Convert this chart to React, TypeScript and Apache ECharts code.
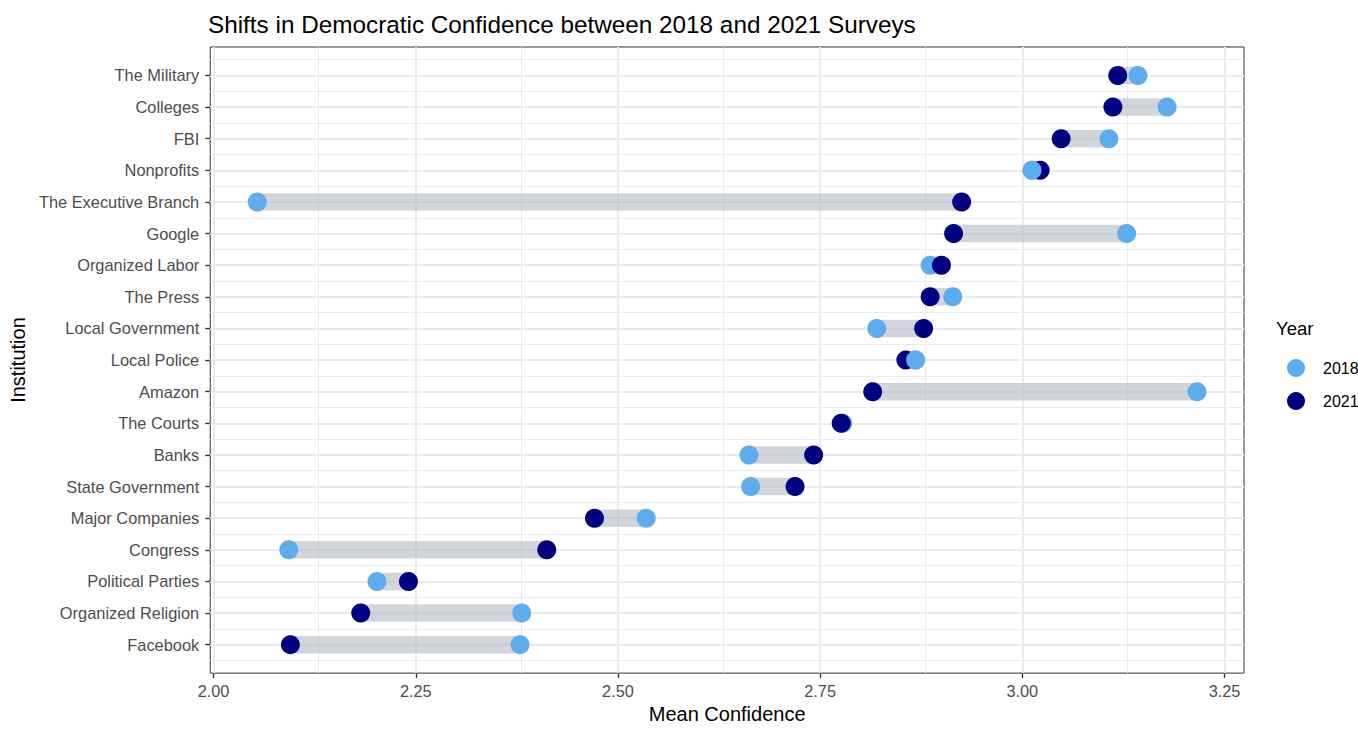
import React, { useEffect, useRef } from 'react';
import * as echarts from 'echarts';

// Institutions listed from top to bottom of the chart
const institutions = [
  'The Military',
  'Colleges',
  'FBI',
  'Nonprofits',
  'The Executive Branch',
  'Google',
  'Organized Labor',
  'The Press',
  'Local Government',
  'Local Police',
  'Amazon',
  'The Courts',
  'Banks',
  'State Government',
  'Major Companies',
  'Congress',
  'Political Parties',
  'Organized Religion',
  'Facebook',
];

const mean2018 = [
  3.143, 3.179, 3.107, 3.012, 2.054, 3.129, 2.886, 2.914, 2.82, 2.868,
  3.216, 2.778, 2.662, 2.664, 2.535, 2.093, 2.202, 2.381, 2.379,
];

const mean2021 = [
  3.118, 3.112, 3.048, 3.022, 2.925, 2.915, 2.9, 2.886, 2.878, 2.856,
  2.815, 2.776, 2.742, 2.719, 2.471, 2.412, 2.241, 2.182, 2.095,
];

const years = ['2018', '2021'];
const xTicks = [2.0, 2.25, 2.5, 2.75, 3.0, 3.25];
const xMinorTicks = [2.125, 2.375, 2.625, 2.875, 3.125];
// rows where the 2018 point is drawn above the 2021 point
const lightOnTop = ['Nonprofits', 'Local Police'];

const FONT = "'Liberation Sans', Arial, Helvetica, sans-serif";
const COLOR_2018 = '#5DADEC';
const COLOR_2021 = '#000080';

export default function App() {
  const ref = useRef<HTMLDivElement>(null);

  useEffect(() => {
    document.body.style.margin = '0';
    const chart = echarts.init(ref.current!, null, { renderer: 'svg' });
    const N = institutions.length;
    const yPos = institutions.map((_, i) => N - i);
    const all = [...mean2018, ...mean2021];
    const lo = Math.min(...all);
    const hi = Math.max(...all);
    const xPad = (hi - lo) * 0.05;
    const yPad = (N - 1) * 0.05;
    const yMajor = yPos.slice().reverse();
    const yMinor = Array.from({ length: N + 1 }, (_, k) => k + 0.5);

    const major = { color: '#ebebeb', width: 2, type: 'solid' as const };
    const minor = { color: '#ebebeb', width: 1, type: 'solid' as const };
    const gridLines = [
      ...xMinorTicks.map((v) => ({ xAxis: v, lineStyle: minor })),
      ...yMinor.map((v) => ({ yAxis: v, lineStyle: minor })),
      ...xTicks.map((v) => ({ xAxis: v, lineStyle: major })),
      ...yMajor.map((v) => ({ yAxis: v, lineStyle: major })),
    ];

    chart.setOption({
      animation: false,
      title: {
        text: 'Shifts in Democratic Confidence between 2018 and 2021 Surveys',
        left: 203,
        top: 7,
        textStyle: { fontFamily: FONT, fontSize: 24.3, fontWeight: 'normal', color: '#000' },
      },
      grid: {
        left: 209,
        width: 1035,
        top: 47,
        height: 634,
        show: true,
        borderColor: '#333333',
        borderWidth: 1,
        backgroundColor: '#ffffff',
        containLabel: false,
      },
      legend: {
        data: years.map((y) => ({ name: y, icon: 'circle' })),
        orient: 'vertical',
        left: 1282,
        top: 354,
        itemWidth: 18,
        itemHeight: 18,
        itemGap: 15,
        selectedMode: false,
        textStyle: { fontFamily: FONT, fontSize: 16, color: '#000', padding: [0, 0, 0, 13] },
      },
      graphic: [
        {
          type: 'text',
          x: 1276,
          y: 328,
          style: {
            text: 'Year',
            fontFamily: FONT,
            fontSize: 18.5,
            fill: '#000',
            verticalAlign: 'middle',
          },
        },
      ],
      xAxis: {
        type: 'value',
        min: lo - xPad,
        max: hi + xPad,
        name: 'Mean Confidence',
        nameLocation: 'middle',
        nameGap: 28,
        nameTextStyle: { fontFamily: FONT, fontSize: 20, color: '#000' },
        axisLine: { show: false, onZero: false },
        axisTick: { show: true, length: 5, lineStyle: { color: '#333333', width: 1.3 }, customValues: xTicks },
        axisLabel: {
          customValues: xTicks,
          formatter: (v: number) => v.toFixed(2),
          fontFamily: FONT,
          fontSize: 16.3,
          color: '#4d4d4d',
          margin: 10,
        },
        splitLine: { show: false },
      },
      yAxis: {
        type: 'value',
        min: 1 - yPad,
        max: N + yPad,
        name: 'Institution',
        nameLocation: 'middle',
        nameGap: 180,
        nameRotate: 90,
        nameTextStyle: { fontFamily: FONT, fontSize: 20, color: '#000' },
        axisLine: { show: false, onZero: false },
        axisTick: { show: true, length: 5, lineStyle: { color: '#333333', width: 1.3 }, customValues: yMajor },
        axisLabel: {
          customValues: yMajor,
          formatter: (v: number) => institutions[N - Math.round(v)] ?? '',
          fontFamily: FONT,
          fontSize: 16.4,
          color: '#4d4d4d',
          margin: 11,
        },
        splitLine: { show: false },
      },
      series: [
        {
          type: 'custom',
          name: 'segments',
          z: 3,
          data: institutions.map((_, i) => [mean2018[i], mean2021[i], yPos[i]]),
          encode: { x: [0, 1], y: 2 },
          renderItem: (_params: any, api: any) => {
            const p1 = api.coord([api.value(0), api.value(2)]);
            const p2 = api.coord([api.value(1), api.value(2)]);
            return {
              type: 'line',
              shape: { x1: p1[0], y1: p1[1], x2: p2[0], y2: p2[1] },
              style: { stroke: 'rgba(180,187,196,0.6)', lineWidth: 17.5, lineCap: 'butt' },
            };
          },
          markLine: {
            z: 1,
            silent: true,
            symbol: 'none',
            label: { show: false },
            emphasis: { disabled: true },
            animation: false,
            data: gridLines,
          },
        },
        {
          type: 'scatter',
          name: years[0],
          z: 4,
          symbol: 'circle',
          symbolSize: 19,
          itemStyle: { color: COLOR_2018, opacity: 1 },
          data: institutions.map((_, i) => [mean2018[i], yPos[i]]),
        },
        {
          type: 'scatter',
          name: years[1],
          z: 5,
          symbol: 'circle',
          symbolSize: 19,
          itemStyle: { color: COLOR_2021, opacity: 1 },
          data: institutions.map((_, i) => [mean2021[i], yPos[i]]),
        },
        {
          type: 'scatter',
          name: years[0],
          z: 6,
          symbol: 'circle',
          symbolSize: 19,
          itemStyle: { color: COLOR_2018, opacity: 1 },
          data: institutions
            .map((name, i) => ({ name, value: [mean2018[i], yPos[i]] }))
            .filter((d) => lightOnTop.includes(d.name)),
        },
      ],
    });

    return () => chart.dispose();
  }, []);

  return (
    <div
      ref={ref}
      style={{ position: 'absolute', left: 0, top: 0, width: 1358, height: 729, background: '#fff' }}
    />
  );
}
